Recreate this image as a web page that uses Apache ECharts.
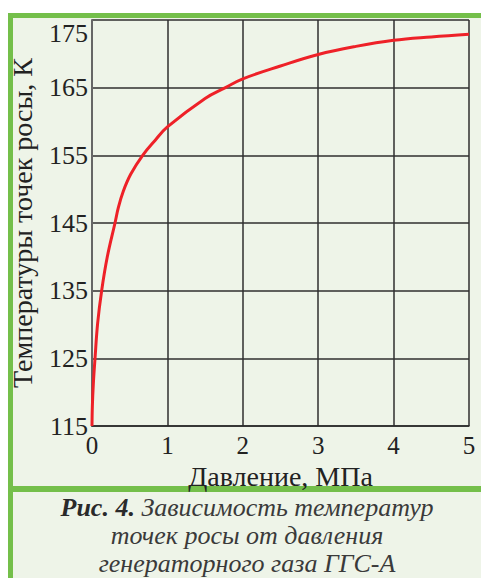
<!DOCTYPE html>
<html>
<head>
<meta charset="utf-8">
<script src="https://cdn.jsdelivr.net/npm/echarts@6/dist/echarts.min.js"></script>
<style>
html,body{margin:0;padding:0;background:#fff;}
#c{width:481px;height:578px;}
</style>
</head>
<body>
<div id="c"></div>
<script>
// Data
const pressure = [0, 0.005, 0.018, 0.04, 0.075, 0.128, 0.203, 0.305, 0.35, 0.415, 0.513, 0.672, 0.836, 1.0, 1.5, 1.77, 2.0, 2.5, 3.0, 3.5, 4.0, 4.5, 5.0];
const dewTemp  = [115, 118, 121.3, 125, 130.2, 135, 140, 145, 147.3, 149.7, 152.2, 155, 157.2, 159.2, 163.4, 165, 166.3, 168.2, 169.9, 171.1, 172.0, 172.5, 172.9];
const xTicks = [0, 1, 2, 3, 4, 5];
const yTicks = [115, 125, 135, 145, 155, 165, 175];
const xName = 'Давление, МПа';
const yName = 'Температуры точек росы, К';
const captionBold = 'Рис. 4.';
const captionLines = [' Зависимость температур', 'точек росы от давления', 'генераторного газа ГГС-А'];

const GREEN = '#74bf4a';
const BG = '#eef4e8';
const FONT = 'Liberation Serif';

const chart = echarts.init(document.getElementById('c'), null, {renderer: 'svg'});
chart.setOption({
  animation: false,
  backgroundColor: '#ffffff',
  graphic: [
    {type: 'rect', z: -10, silent: true, shape: {x: 8, y: 13, width: 473, height: 565}, style: {fill: BG}},
    {type: 'rect', z: -9, silent: true, shape: {x: 8, y: 13, width: 473, height: 5}, style: {fill: GREEN}},
    {type: 'rect', z: -9, silent: true, shape: {x: 8, y: 13, width: 5, height: 565}, style: {fill: GREEN}},
    {type: 'rect', z: -9, silent: true, shape: {x: 8, y: 486, width: 473, height: 6}, style: {fill: GREEN}}
  ],
  title: {
    left: 247, top: 493, textAlign: 'center', padding: 0,
    text: '{b|' + captionBold + '}{i|' + captionLines[0] + '}\n{i|' + captionLines[1] + '}\n{i|' + captionLines[2] + '}',
    textStyle: {
      fontWeight: 'normal',
      rich: {
        b: {fontFamily: FONT, fontSize: 26, fontStyle: 'italic', fontWeight: 'bold', color: '#2a2a2a', lineHeight: 28},
        i: {fontFamily: FONT, fontSize: 26, fontStyle: 'italic', fontWeight: 'normal', color: '#3a3a3a', lineHeight: 28}
      }
    }
  },
  grid: {left: 92, top: 20, right: 12, bottom: 152, containLabel: false},
  xAxis: {
    type: 'value', min: xTicks[0], max: xTicks[xTicks.length - 1], interval: 1,
    name: xName, nameLocation: 'middle', nameGap: 26,
    nameTextStyle: {fontFamily: FONT, fontSize: 28, color: '#222', verticalAlign: 'top'},
    axisLine: {show: true, lineStyle: {color: '#2a2a2a', width: 1.5}},
    axisTick: {show: false},
    axisLabel: {fontFamily: FONT, fontSize: 25, color: '#222', margin: 7},
    splitLine: {show: true, lineStyle: {color: '#2f2f2f', width: 1.5}}
  },
  yAxis: {
    type: 'value', min: yTicks[0], max: yTicks[yTicks.length - 1], interval: 10,
    name: yName, nameLocation: 'middle', nameGap: 56, nameRotate: 90,
    nameTextStyle: {fontFamily: FONT, fontSize: 28, color: '#222'},
    axisLine: {show: true, lineStyle: {color: '#666', width: 2}},
    axisTick: {show: false},
    axisLabel: {fontFamily: FONT, fontSize: 26, color: '#222', margin: 4, verticalAlignMaxLabel: 'top'},
    splitLine: {show: true, lineStyle: {color: '#2f2f2f', width: 1.5}}
  },
  series: [{
    type: 'line',
    data: pressure.map((p, i) => [p, dewTemp[i]]),
    smooth: 0.4,
    showSymbol: false,
    lineStyle: {color: '#ee2128', width: 3},
    z: 5
  }]
});
</script>
</body>
</html>
